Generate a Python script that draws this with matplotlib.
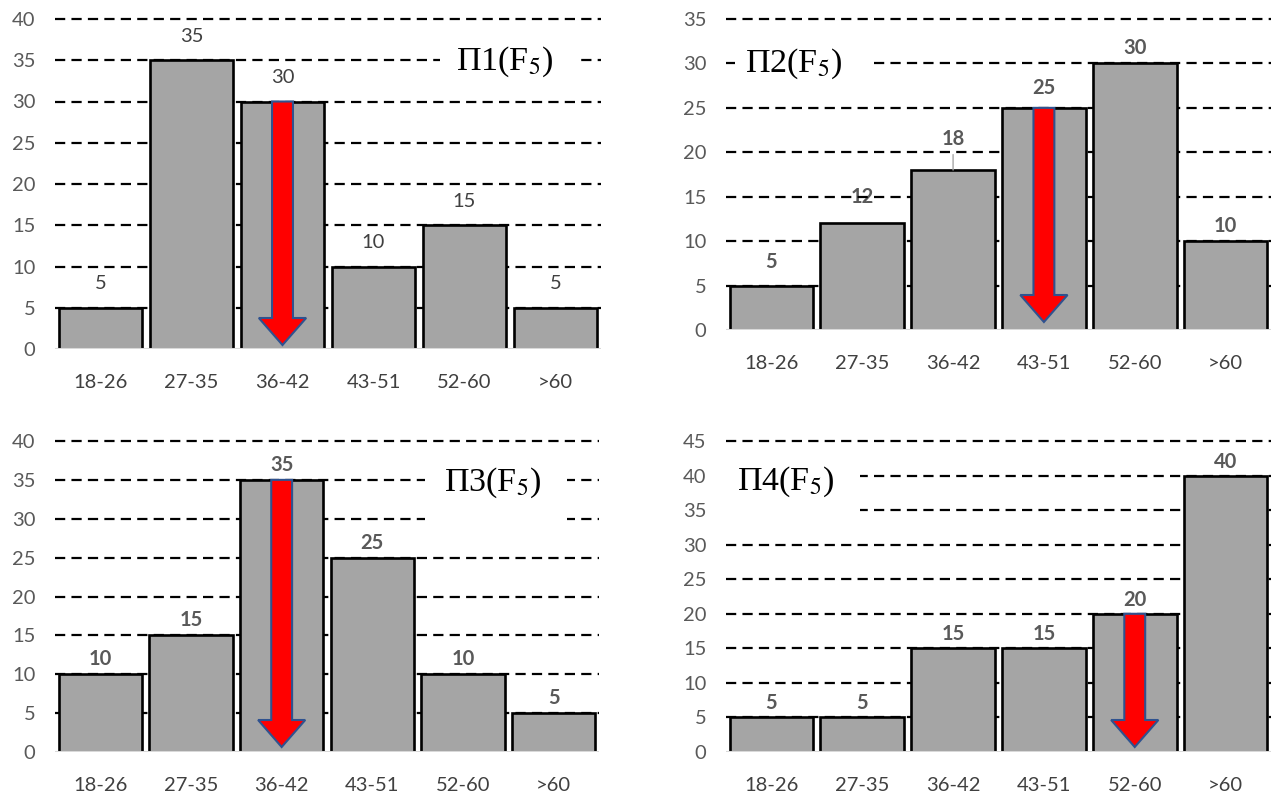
import matplotlib
matplotlib.use("Agg")
import matplotlib.pyplot as plt
from matplotlib.patches import FancyArrow, Rectangle

# data
age_groups = ["18-26", "27-35", "36-42", "43-51", "52-60", ">60"]
p1_values = [5, 35, 30, 10, 15, 5]
p2_values = [5, 12, 18, 25, 30, 10]
p3_values = [10, 15, 35, 25, 10, 5]
p4_values = [5, 5, 15, 15, 20, 40]
panel_titles = ["П1(F${}_5$)", "П2(F${}_5$)", "П3(F${}_5$)", "П4(F${}_5$)"]
y_max = [40, 35, 40, 45]
arrow_bar = [2, 3, 2, 4]      # which age group carries the red arrow

plt.rcParams["mathtext.fontset"] = "stix"

W, H = 1282, 796
fig = plt.figure(figsize=(W / 100, H / 100), dpi=100)

# panel frames in pixels: left, top, right, bottom
frames = [(55, 19, 601, 349), (726, 19, 1271, 330),
          (55, 441, 599, 752), (726, 441, 1271, 752)]
# title centre (x in categories, y in data) and white box (x0, x1, y0, y1)
title_pos = [(4.44, 34.8), (0.25, 30.0), (4.33, 34.6), (0.16, 39.1)]
title_box = [(3.73, 5.21, 32.5, 37.5), (-0.40, 1.06, 27.5, 32.5),
             (3.58, 5.15, 27.5, 37.5), (-0.50, 0.98, 32.5, 42.5)]
label_off = [24, 15, 15, 14]           # px above bar top (label centre)
special_off = {(1, 0): 24, (1, 1): 26, (1, 2): 31, (1, 3): 20}
arrow_tip_px = [4, 8, 5, 5]

all_values = [p1_values, p2_values, p3_values, p4_values]
x = list(range(len(age_groups)))
fs = 14.5

for k, values in enumerate(all_values):
    l, t, r, b = frames[k]
    ax = fig.add_axes([l / W, 1 - b / H, (r - l) / W, (b - t) / H])
    ax.set_xlim(-0.5, 5.5)
    ax.set_ylim(0, y_max[k])
    px_per_unit = (b - t) / y_max[k]

    # dashed gridlines behind the bars
    ticks = list(range(0, y_max[k] + 1, 5))
    for yv in ticks[1:]:
        ax.plot([-0.5, 5.5], [yv, yv], color="black", lw=1.6,
                ls=(0, (4.6, 2.8)), zorder=1, clip_on=False)

    ax.bar(x, values, width=0.92, color="#a5a5a5", edgecolor="black",
           linewidth=1.9, zorder=2)
    ax.axhline(0, color="#d9d9d9", lw=2.2, zorder=3)

    # value labels
    for i, v in enumerate(values):
        off = special_off.get((k, i), label_off[k]) * 0.72
        kw = dict(ha="center", va="center", fontsize=fs,
                  family="Lato", textcoords="offset points")
        if k == 0:
            ax.annotate(str(v), xy=(i, v), xytext=(0, off), color="#404040",
                        bbox=dict(fc="white", ec="none", pad=2.5),
                        zorder=4, **kw)
        elif (k, i) == (1, 1):
            ax.annotate(str(v), xy=(i, v), xytext=(0, off), color="#595959",
                        fontweight="bold", zorder=0.9, **kw)
        elif (k, i) == (1, 2):
            ax.annotate(str(v), xy=(i, v), xytext=(0, off), color="#595959",
                        fontweight="bold", zorder=4,
                        arrowprops=dict(arrowstyle="-", color="#a6a6a6",
                                        lw=1, shrinkA=2, shrinkB=0), **kw)
        else:
            ax.annotate(str(v), xy=(i, v), xytext=(0, off), color="#595959",
                        fontweight="bold", zorder=4, **kw)

    # red arrow down the chosen bar
    j = arrow_bar[k]
    top = values[j]
    tip = arrow_tip_px[k] / px_per_unit
    arr = FancyArrow(j, top, 0, -(top - tip), width=0.23, head_width=0.52,
                     head_length=27 / px_per_unit, length_includes_head=True,
                     fc="#ff0000", ec="#2f528f", lw=1.5, zorder=5)
    ax.add_patch(arr)

    # title on a white box
    bx0, bx1, by0, by1 = title_box[k]
    ax.add_patch(Rectangle((bx0, by0), bx1 - bx0, by1 - by0, fc="white",
                           ec="none", zorder=1.5, clip_on=False))
    ax.text(title_pos[k][0], title_pos[k][1], panel_titles[k], ha="center",
            va="center", fontsize=24.5, family="Liberation Serif",
            color="black", zorder=6)

    ax.set_yticks(ticks)
    ax.set_xticks(x)
    ax.set_xticklabels(age_groups, fontsize=fs, family="Lato",
                       color="#404040")
    for lab in ax.get_yticklabels():
        lab.set_fontsize(fs)
        lab.set_family("Lato")
        lab.set_color("#595959")
    ax.tick_params(axis="y", length=0, pad=14)
    ax.tick_params(axis="x", length=0, pad=18)
    for s in ax.spines.values():
        s.set_visible(False)

fig.savefig("out.png", dpi=100)
